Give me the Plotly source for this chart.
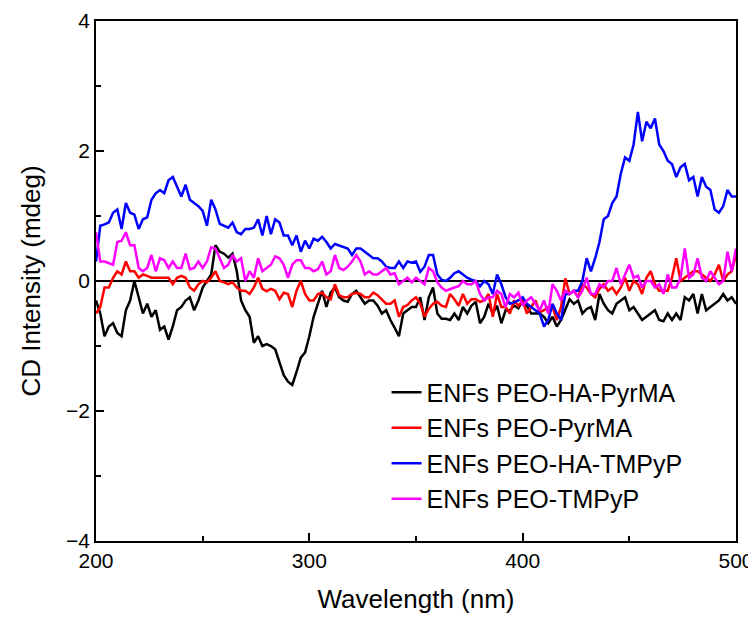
import plotly.graph_objects as go

# Wavelength grid (nm)
wavelength = list(range(200, 501, 2))

# CD intensity (mdeg)
enfs_peo_ha_pyrma = [
    -0.3, -0.5, -0.85, -0.7, -0.65, -0.8, -0.85, -0.45, -0.3, 0.0,
    -0.25, -0.5, -0.35, -0.55, -0.45, -0.75, -0.7, -0.9, -0.7, -0.45,
    -0.4, -0.3, -0.25, -0.45, -0.3, -0.1, 0.0, 0.1, 0.55, 0.45,
    0.42, 0.36, 0.42, 0.15, -0.3, -0.45, -0.55, -0.95, -0.85, -1.0,
    -0.97, -1.0, -1.05, -1.25, -1.45, -1.55, -1.6, -1.4, -1.18, -1.1,
    -0.85, -0.55, -0.33, -0.15, -0.4, -0.18, -0.1, -0.25, -0.3, -0.32,
    -0.2, -0.15, -0.25, -0.35, -0.3, -0.3, -0.38, -0.5, -0.45, -0.6,
    -0.72, -0.85, -0.5, -0.45, -0.4, -0.4, -0.25, -0.6, -0.25, -0.1,
    -0.5, -0.58, -0.58, -0.6, -0.5, -0.6, -0.4, -0.5, -0.38, -0.32,
    -0.65, -0.55, -0.35, -0.5, -0.38, -0.65, -0.45, -0.45, -0.38, -0.42,
    -0.3, -0.38, -0.5, -0.5, -0.5, -0.55, -0.65, -0.55, -0.7, -0.6,
    -0.45, -0.28, -0.35, -0.3, -0.5, -0.43, -0.4, -0.6, -0.2, -0.35,
    -0.45, -0.5, -0.35, -0.3, -0.25, -0.45, -0.4, -0.5, -0.6, -0.55,
    -0.5, -0.45, -0.6, -0.62, -0.5, -0.6, -0.5, -0.6, -0.25, -0.3,
    -0.2, -0.5, -0.2, -0.45, -0.4, -0.35, -0.3, -0.2, -0.3, -0.25, -0.35,
]

enfs_peo_pyrma = [
    -0.5, -0.4, -0.1, -0.1, 0.05, 0.15, 0.1, 0.3, 0.15, 0.15,
    0.05, 0.1, 0.08, 0.05, 0.05, 0.05, 0.05, 0.05, -0.05, 0.05,
    0.08, 0.05, -0.1, -0.15, -0.05, 0.0, -0.02, 0.05, 0.15, 0.0,
    -0.02, -0.05, -0.02, -0.1, -0.15, -0.15, -0.2, -0.1, 0.05, -0.12,
    -0.16, -0.12, -0.15, -0.28, -0.18, -0.2, -0.4, -0.15, 0.0, -0.2,
    -0.3, -0.3, -0.2, -0.18, -0.25, -0.28, -0.05, -0.22, -0.25, -0.25,
    -0.2, -0.18, -0.2, -0.25, -0.25, -0.18, -0.22, -0.28, -0.35, -0.35,
    -0.3, -0.55, -0.4, -0.37, -0.3, -0.25, -0.35, -0.55, -0.43, -0.35,
    -0.32, -0.38, -0.4, -0.2, -0.28, -0.38, -0.2, -0.35, -0.28, -0.28,
    -0.32, -0.3, -0.2, -0.55, -0.2, -0.4, -0.4, -0.5, -0.3, -0.38,
    -0.3, -0.5, -0.4, -0.3, -0.48, -0.45, -0.4, -0.4, -0.6, -0.4,
    0.04, -0.2, -0.15, -0.25, -0.05, -0.1, -0.2, -0.25, -0.12, -0.05,
    -0.15, -0.1, -0.2, -0.1, 0.05, -0.15, 0.0, -0.05, -0.2, 0.05,
    0.15, -0.05, -0.15, -0.15, -0.15, 0.05, 0.35, 0.0, 0.05, 0.1,
    0.15, 0.15, 0.1, 0.05, 0.0, 0.1, 0.25, 0.0, 0.1, 0.15, 0.4,
]

enfs_peo_ha_tmpyp = [
    0.3, 0.85, 0.87, 0.9, 1.05, 1.1, 0.8, 1.2, 1.05, 1.02,
    0.8, 0.95, 0.98, 1.25, 1.35, 1.4, 1.35, 1.55, 1.6, 1.45,
    1.3, 1.48, 1.25, 1.2, 1.15, 1.08, 0.85, 1.25, 1.1, 0.88,
    0.85, 0.82, 0.9, 0.75, 0.72, 0.8, 0.8, 0.82, 0.95, 0.7,
    1.0, 0.72, 0.95, 0.9, 0.7, 0.7, 0.55, 0.7, 0.45, 0.62,
    0.5, 0.65, 0.62, 0.68, 0.6, 0.5, 0.57, 0.55, 0.52, 0.5,
    0.4, 0.5, 0.5, 0.45, 0.4, 0.35, 0.35, 0.3, 0.22, 0.2,
    0.2, 0.3, 0.2, 0.3, 0.28, 0.3, 0.14, 0.22, 0.4, 0.4,
    0.1, 0.02, 0.0, 0.05, 0.12, 0.15, 0.1, 0.05, 0.02, 0.0,
    -0.08, 0.0, -0.05, -0.2, 0.1, -0.05, -0.25, -0.35, -0.33, -0.3,
    -0.25, -0.35, -0.4, -0.45, -0.5, -0.7, -0.6, -0.35, -0.5, -0.6,
    -0.2, -0.2, -0.15, -0.15, 0.0, 0.35, 0.15, 0.35, 0.6, 0.95,
    1.0, 1.2, 1.3, 1.65, 1.9, 1.85, 2.1, 2.6, 2.15, 2.45,
    2.35, 2.5, 2.1, 2.0, 1.85, 1.8, 1.6, 1.75, 1.8, 1.55,
    1.6, 1.3, 1.6, 1.45, 1.4, 1.1, 1.05, 1.15, 1.4, 1.3, 1.3,
]

enfs_peo_tmpyp = [
    0.75, 0.3, 0.3, 0.28, 0.25, 0.6, 0.62, 0.75, 0.55, 0.55,
    0.2, 0.15, 0.2, 0.4, 0.15, 0.35, 0.32, 0.2, 0.3, 0.2,
    0.2, 0.42, 0.18, 0.2, 0.3, 0.2, 0.3, 0.52, 0.5, 0.35,
    0.2, 0.25, 0.4, 0.3, 0.35, 0.0, 0.15, 0.05, 0.35, 0.15,
    0.2, 0.25, 0.38, 0.35, 0.25, 0.05, 0.25, 0.32, 0.32, 0.2,
    0.2, 0.15, 0.18, 0.3, 0.1, 0.15, 0.4, 0.2, 0.17, 0.22,
    0.3, 0.4, 0.3, 0.1, 0.15, 0.1, 0.1, 0.15, 0.2, 0.1,
    0.12, -0.05, 0.0, 0.05, -0.02, 0.05, 0.0, -0.05, 0.2, 0.15,
    -0.02, -0.1, -0.15, -0.12, -0.1, -0.08, 0.0, -0.05, -0.05, 0.0,
    -0.2, -0.3, -0.25, -0.25, -0.15, -0.2, -0.4, -0.2, -0.25, -0.18,
    -0.38, -0.3, -0.25, -0.35, -0.45, -0.3, -0.5, -0.05, -0.15, -0.3,
    -0.15, -0.2, -0.15, -0.25, -0.15, 0.05, -0.2, -0.2, -0.05, -0.1,
    0.0, 0.0, 0.2, -0.05, 0.1, 0.25, 0.05, 0.08, -0.1, 0.0,
    0.0, -0.1, -0.05, -0.2, 0.1, -0.1, -0.1, 0.05, 0.5, 0.05,
    0.1, 0.35, 0.05, 0.0, 0.15, 0.05, -0.05, 0.0, 0.45, 0.15, 0.5,
]

series_names = ["ENFs PEO-HA-PyrMA", "ENFs PEO-PyrMA", "ENFs PEO-HA-TMPyP", "ENFs PEO-TMPyP"]
series_values = [enfs_peo_ha_pyrma, enfs_peo_pyrma, enfs_peo_ha_tmpyp, enfs_peo_tmpyp]
series_colors = ["#000000", "#FF0000", "#0000FF", "#FF00FF"]

x_tick_values = [200, 300, 400, 500]
y_tick_values = [-4, -2, 0, 2, 4]

FONT = "Arial, Liberation Sans, Helvetica, sans-serif"

fig = go.Figure()
for name, vals, col in zip(series_names, series_values, series_colors):
    fig.add_trace(go.Scatter(
        x=wavelength, y=vals, mode="lines", name=name,
        line=dict(color=col, width=2.5),
    ))

# the page body adds an 8px offset, so the figure is sized to fit inside it
fig.update_layout(
    width=748, height=609,
    margin=dict(l=88, r=20, t=13, b=76),
    plot_bgcolor="white", paper_bgcolor="white",
    font=dict(family=FONT, color="black", size=21),
    showlegend=True,
    legend=dict(
        x=0.454, y=0.330, xanchor="left", yanchor="top",
        bgcolor="rgba(0,0,0,0)", borderwidth=0,
        font=dict(family=FONT, size=25, color="black"),
        tracegroupgap=0, itemwidth=30,
    ),
)

fig.update_xaxes(
    range=[200, 500], tickvals=x_tick_values, automargin=False,
    ticks="inside", ticklen=8, tickwidth=1.5, tickcolor="black",
    showline=True, linewidth=1.5, linecolor="black", mirror=True,
    showgrid=False, zeroline=False,
    minor=dict(dtick=50, ticks="inside", ticklen=5, tickwidth=1.5, tickcolor="black", showgrid=False),
    tickfont=dict(family=FONT, size=21),
    title=dict(text="Wavelength (nm)", font=dict(family=FONT, size=26), standoff=19),
)
fig.update_yaxes(
    range=[-4, 4], tickvals=y_tick_values, automargin=False,
    ticks="inside", ticklen=8, tickwidth=1.5, tickcolor="black",
    showline=True, linewidth=1.5, linecolor="black", mirror=True,
    showgrid=False,
    zeroline=True, zerolinecolor="black", zerolinewidth=1.5,
    minor=dict(dtick=1, ticks="inside", ticklen=5, tickwidth=1.5, tickcolor="black", showgrid=False),
    tickfont=dict(family=FONT, size=21),
    title=dict(text="CD Intensity (mdeg)", font=dict(family=FONT, size=26), standoff=18),
)

fig.write_html("out.html")
